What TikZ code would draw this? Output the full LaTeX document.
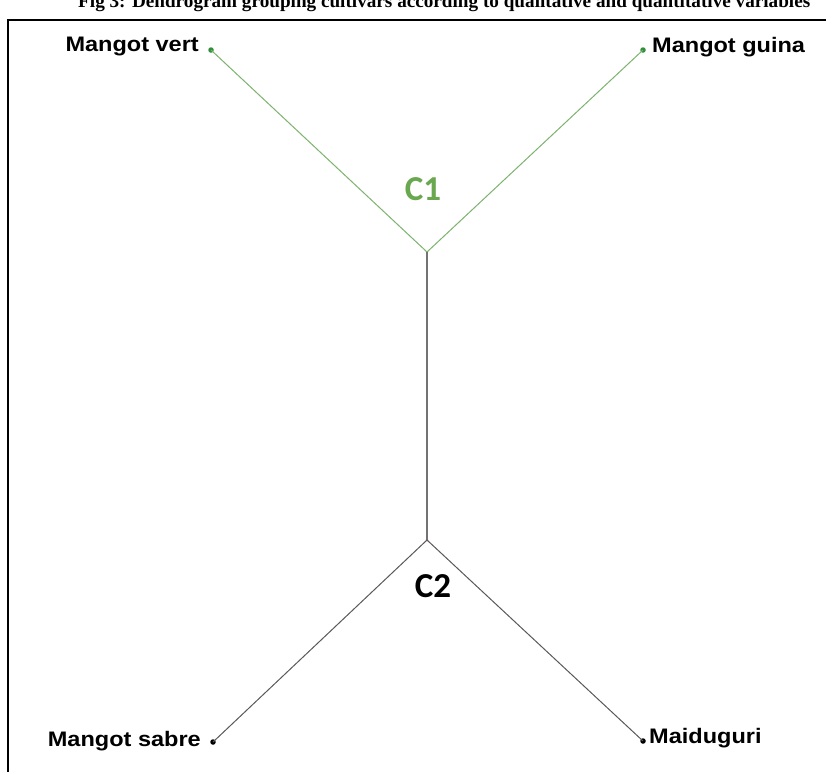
\documentclass[tikz,border=0pt]{standalone}
\usepackage{fontspec}
\setmainfont{Liberation Serif}
\newfontfamily\lab{Liberation Sans}
\newfontfamily\cfont{Carlito}
\definecolor{brgreen}{HTML}{7DB36E}
\definecolor{dotgreen}{HTML}{2F8F3A}
\definecolor{cgreen}{HTML}{6AA84F}
\tikzset{
  leaf/.style={circle,inner sep=0pt,minimum size=5.5pt,fill=#1},
  leaflabel/.style={inner sep=0pt,font=\lab\bfseries\fontsize{21}{23}\selectfont},
  clabel/.style={inner sep=0pt,font=\cfont\bfseries\fontsize{35}{37}\selectfont},
  gbranch/.style={draw=brgreen,line width=1pt},
  kbranch/.style={draw=black!65,line width=1pt},
}
\begin{document}
\begin{tikzpicture}[x=1pt,y=-1pt]
\useasboundingbox (0,0) rectangle (826,772);
\fill[white] (0,0) rectangle (826,772);
% title (clipped at top)
\node[anchor=base west,inner sep=0pt,font=\bfseries\fontsize{15}{17}\selectfont] (title) at (78,7)
  {\resizebox{732pt}{!}{Fig 3: Dendrogram grouping cultivars according to qualitative and quantitative variables}};
% frame
\draw[line width=1.6pt] (8,772) -- (8,20) -- (826,20);
% junctions and leaves
\coordinate (c1) at (427,252);
\node[circle,inner sep=0pt,minimum size=3pt,fill=red!60] (c2) at (427,540) {};
\node[leaf=dotgreen] (mv) at (211,50) {};
\node[leaf=dotgreen] (mg) at (643,50) {};
\node[leaf=black] (ms) at (213,742) {};
\node[leaf=black] (md) at (643,741) {};
% branches
\draw[gbranch] (mv.center) -- (c1);
\draw[gbranch] (mg.center) -- (c1);
\draw[draw=black!55,line width=1.2pt] (c1) -- (c2.center);
\draw[kbranch] (c2.center) -- (ms.center);
\draw[kbranch] (c2.center) -- (md.center);
% labels
\node[leaflabel,anchor=base east] (lmv) at (199,51) {\scalebox{1.12}[1]{Mangot vert}};
\node[leaflabel,anchor=base west] (lmg) at (652,52) {\scalebox{1.12}[1]{Mangot guina}};
\node[leaflabel,anchor=base east] (lms) at (201,746) {\scalebox{1.12}[1]{Mangot sabre}};
\node[leaflabel,anchor=base west] (lmd) at (649,743) {\scalebox{1.12}[1]{Maiduguri}};
\node[clabel,text=cgreen,anchor=base] (C1) at (423,200) {C1};
\node[clabel,text=black,anchor=base] (C2) at (433,597) {C2};
\end{tikzpicture}
\end{document}
